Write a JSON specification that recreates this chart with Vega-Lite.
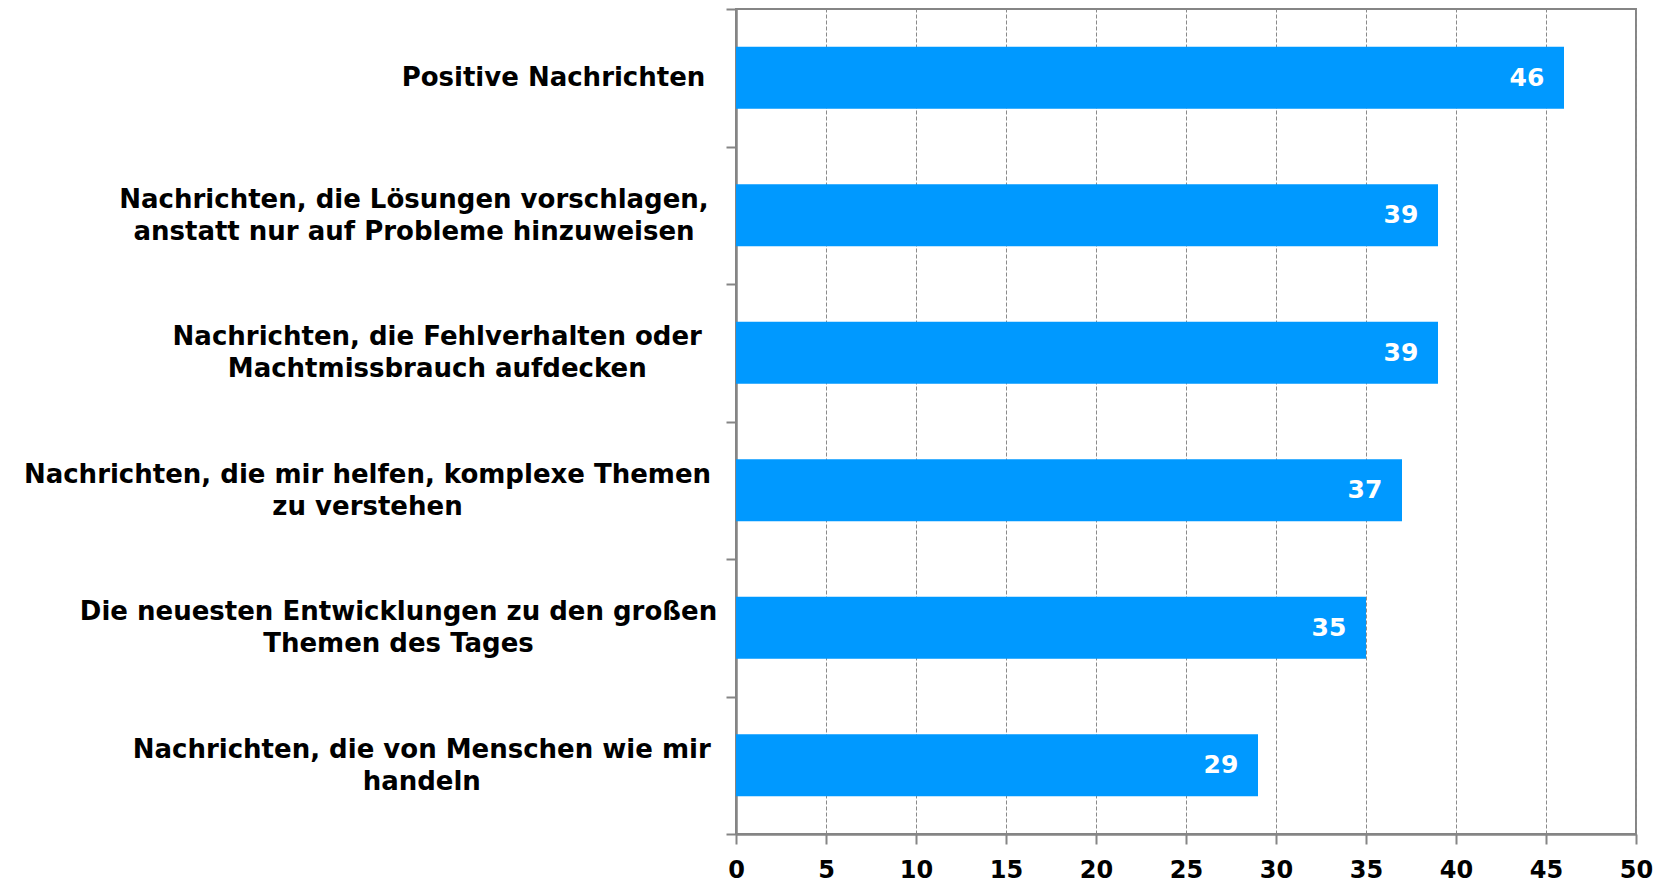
{
  "$schema": "https://vega.github.io/schema/vega-lite/v6.json",
  "width": 900,
  "height": 825,
  "autosize": {"type": "none"},
  "padding": {"left": 736, "top": 9, "right": 20, "bottom": 49},
  "background": "white",
  "config": {"view": {"stroke": "#858585", "strokeWidth": 2}},
  "data": {
    "values": [
      {"kategorie": "Positive Nachrichten", "wert": 46},
      {"kategorie": "Nachrichten, die Lösungen vorschlagen,|anstatt nur auf Probleme hinzuweisen", "wert": 39},
      {"kategorie": "Nachrichten, die Fehlverhalten oder|Machtmissbrauch aufdecken", "wert": 39},
      {"kategorie": "Nachrichten, die mir helfen, komplexe Themen|zu verstehen", "wert": 37},
      {"kategorie": "Die neuesten Entwicklungen zu den großen|Themen des Tages", "wert": 35},
      {"kategorie": "Nachrichten, die von Menschen wie mir|handeln", "wert": 29}
    ]
  },
  "encoding": {
    "y": {
      "field": "kategorie",
      "type": "nominal",
      "sort": null,
      "scale": {"paddingInner": 0, "paddingOuter": 0},
      "axis": {
        "title": null,
        "grid": false,
        "labelExpr": "isValid(datum.value) ? split(datum.value, '|') : ''",
        "labelFont": "DejaVu Sans",
        "labelFontWeight": "bold",
        "labelFontSize": 26,
        "labelColor": "black",
        "labelLineHeight": 32,
        "labelLimit": 1000,
        "labelAlign": "center",
        "labelPadding": 18,
        "tickBand": "extent",
        "tickSize": 10,
        "tickColor": "#858585",
        "tickWidth": 2,
        "domainColor": "#858585",
        "domainWidth": 2.5,
        "encoding": {
          "labels": {
            "dx": {"value": {"signal": "isValid(datum.value) ? -7.75*max(length(split(datum.value,'|')[0]), length(split(datum.value,'|')[1] || '')) : 0"}},
            "dy": {"value": {"signal": "isValid(datum.value) && indexof(datum.value, '|') >= 0 ? -16 : 0"}}
          }
        }
      }
    },
    "x": {
      "field": "wert",
      "type": "quantitative",
      "scale": {"domain": [0, 50], "nice": false},
      "axis": {
        "title": null,
        "values": [0, 5, 10, 15, 20, 25, 30, 35, 40, 45, 50],
        "grid": true,
        "gridDash": [4, 2],
        "gridColor": "#8a8a8a",
        "gridWidth": 1,
        "tickSize": 10,
        "tickColor": "#858585",
        "tickWidth": 2,
        "domainColor": "#858585",
        "domainWidth": 2.5,
        "labelFont": "DejaVu Sans",
        "labelFontWeight": "bold",
        "labelFontSize": 24,
        "labelColor": "black",
        "labelPadding": 14,
        "labelFlush": false
      }
    }
  },
  "layer": [
    {"mark": {"type": "bar", "color": "#0099FF", "height": {"band": 0.45}}},
    {
      "mark": {
        "type": "text",
        "align": "center",
        "baseline": "middle",
        "dx": -37,
        "font": "DejaVu Sans",
        "fontWeight": "bold",
        "fontSize": 25,
        "color": "white"
      },
      "encoding": {"text": {"field": "wert", "type": "quantitative"}}
    }
  ]
}
